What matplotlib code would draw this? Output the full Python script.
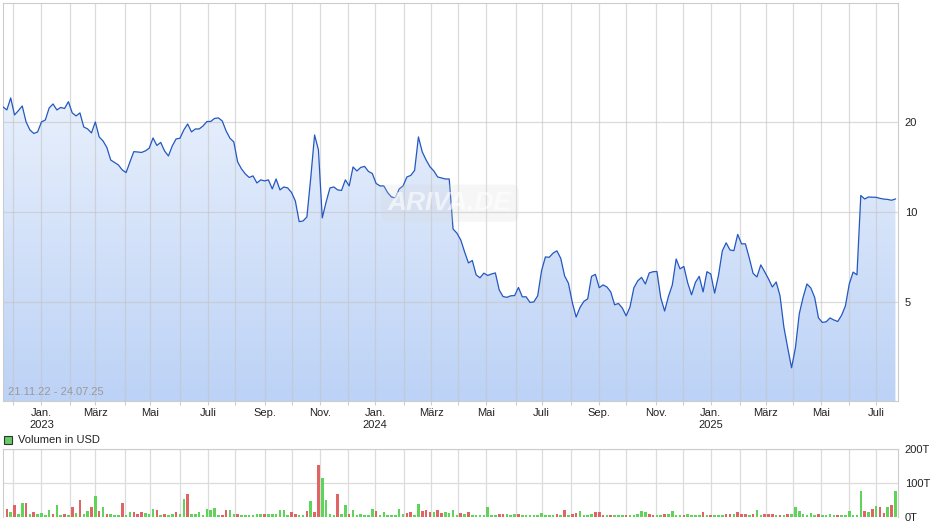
import numpy as np
import pandas as pd
import matplotlib
matplotlib.use('Agg')
import matplotlib.pyplot as plt
from matplotlib.colors import LinearSegmentedColormap
from matplotlib.patches import Rectangle
from matplotlib.ticker import NullLocator

plt.rcParams['font.family'] = ['Liberation Sans', 'DejaVu Sans']

start, end = '2022-11-21', '2025-07-24'
step = 3  # one reading every 3rd trading day

# closing price (USD)
price = [
    22.45, 21.94, 24.06, 21.11, 21.82, 22.62, 20.00, 18.80, 18.30, 18.52,
    20.00, 20.31, 22.28, 22.97, 21.94, 22.36, 22.19, 23.38, 21.44, 20.95,
    21.44, 19.24, 18.95, 18.38, 20.00, 17.82, 17.28, 16.43, 14.92, 14.64,
    14.36, 13.82, 13.54, 14.70, 15.91, 15.87, 15.81, 16.00, 16.33, 17.68,
    16.69, 17.08, 16.00, 15.39, 16.62, 17.55, 17.64, 18.80, 19.69, 18.52,
    18.95, 18.95, 19.39, 20.06, 20.08, 20.55, 20.63, 20.15, 18.66, 17.64,
    17.15, 14.70, 13.93, 13.40, 13.04, 13.20, 12.50, 12.80, 12.70, 12.80,
    11.94, 12.89, 11.85, 12.12, 12.03, 11.62, 10.88, 9.28, 9.33, 9.62,
    12.99, 18.09, 16.12, 9.55, 10.80, 12.03, 12.12, 11.85, 11.80, 12.80,
    12.22, 14.14, 13.71, 14.09, 14.20, 13.66, 13.45, 12.45, 12.22, 12.22,
    11.60, 11.22, 11.14, 11.94, 12.22, 13.09, 13.25, 13.77, 17.82, 15.87,
    14.92, 14.16, 13.71, 13.09, 12.99, 12.89, 12.89, 8.77, 8.49, 8.06,
    7.35, 6.75, 6.88, 6.16, 6.02, 6.24, 6.13, 6.20, 6.25, 5.48,
    5.21, 5.18, 5.24, 5.25, 5.59, 5.20, 5.20, 4.98, 5.00, 5.24,
    6.35, 7.07, 7.05, 7.28, 7.41, 6.99, 6.11, 5.77, 4.98, 4.45,
    4.79, 5.02, 5.12, 6.09, 6.18, 5.58, 5.70, 5.61, 5.40, 4.89,
    4.94, 4.77, 4.49, 4.81, 5.57, 5.88, 6.04, 5.74, 6.25, 6.31,
    6.32, 5.16, 4.66, 5.22, 5.70, 6.96, 6.45, 6.57, 5.79, 5.28,
    5.81, 6.09, 5.40, 6.31, 6.20, 5.35, 6.13, 7.41, 7.88, 7.46,
    7.42, 8.41, 7.82, 7.82, 7.02, 6.23, 6.06, 6.65, 6.31, 5.97,
    5.61, 5.83, 5.24, 4.12, 3.51, 3.01, 3.51, 4.56, 5.18, 5.74,
    5.57, 5.18, 4.42, 4.27, 4.29, 4.42, 4.35, 4.30, 4.51, 4.85,
    5.74, 6.29, 6.16, 11.35, 11.05, 11.22, 11.20, 11.19, 11.10, 11.04,
    11.01, 10.94, 11.05,
]

# volume in thousand USD; negative = down day (red), positive = up day (green)
volume = [
    -51, -24, 15, -36, 8, 42, -42, 10, -15, 8,
    12, 6, 20, -8, 36, 6, -8, 5, -28, 12,
    -51, 10, 18, -28, 63, -18, 28, -10, 8, 6,
    5, -42, 6, 15, -15, -10, -15, 12, 8,
    24, -21, 6, -10, 6, 10, -14, 8, 54, -68, 8,
    8, 15, 6, 24, 21, 26, 6, -5, -21, 21,
    8, -8, 6, 6, 5, 5, 8, 10, -8, 10,
    8, 8, 21, 21, 6, -14, -10, 6,
    6, -18, 48, -15, -154, 114, 51, 8, 6, -68, 8, 36,
    -10, 21, 5, 10, 5, 5, 24, -18, 5, 14,
    6, 6, 6, 24, 10, -12, -15, 6, 39, -18,
    -21, -15, 15, -21, -12, 15, 12,
    21, 5, -12, 8, -15, 6, 6, 6, 6, 30,
    6, 6, -8, -8, 10, 6, 10, -8, 5, 5,
    5, 5, 6, 12, 6, 6, 5, -8, 5, -21,
    5, -8, -12, 18, 6, 5, 10, -15, -15,
    -6, 5, -6, 5, 5, 5, -6, 6, 6, 10,
    18, 14, -10, -6, 5, 5, -10, 8, 18, 5,
    6, -6, 10, 5, 5, 5, -15, 5, -6, 6,
    6, 5, -8, -10, 10, -15, -10, -10, 6,
    -8, 21, 6, -10, -8, -10, 6, -5, 5, -10,
    8, 28, 18, 8, 5, 12, 6, -10, 5, 6,
    8, 5, -6, 6, 6, 18, 6, 5, 76, -18,
    14, -23, 33, -30, -12, 28, -36, 76,
]

month_names = {1: 'Jan.', 3: 'März', 5: 'Mai', 7: 'Juli', 9: 'Sep.', 11: 'Nov.'}
price_ticks = [5, 10, 20]
vol_ticks = [0, 100, 200]

days = pd.bdate_range(start, end)
pos = np.arange(len(days))
px = pos[::step]

# first trading day of every month -> grid lines, every 2nd month labelled
mpos, mlab = [], []
for i in range(1, len(days)):
    if days[i].month != days[i - 1].month:
        mpos.append(i)
        m = days[i].month
        lab = month_names.get(m, '')
        if m == 1:
            lab += '\n' + str(days[i].year)
        mlab.append(lab)

grid_col = '#dcdcdc'
fig = plt.figure(figsize=(9.4, 5.26), dpi=100)
ax = fig.add_axes([0.0032, 0.2376, 0.9521, 0.7567])
axv = fig.add_axes([0.0032, 0.0171, 0.9521, 0.1293])

# price panel
ax.set_yscale('log')
band = ax.fill_between(px, price, 1, facecolor='none', edgecolor='none')
grad = np.linspace(0, 1, 256).reshape(-1, 1)
cmap = LinearSegmentedColormap.from_list('fill', ['#bcd2f6', '#f6f9fe'])
img = ax.imshow(grad, cmap=cmap, origin='lower', extent=[0, 1, 0, 1],
                transform=ax.transAxes, aspect='auto', zorder=1)
img.set_clip_path(band.get_paths()[0], ax.transData)
ax.plot(px, price, color='#2458c0', lw=0.9, zorder=3)

ax.set_xlim(0, len(days) - 1)
ax.set_ylim(2.33, 50)
ax.set_xticks(mpos)
ax.set_xticklabels(mlab)
ax.yaxis.tick_right()
ax.set_yticks(price_ticks)
ax.set_yticklabels([str(t) for t in price_ticks])
ax.yaxis.set_minor_locator(NullLocator())
ax.set_axisbelow('line')
ax.grid(True, color='#c4c4c4', alpha=0.6, lw=0.9)
ax.tick_params(axis='x', length=3, color='#cccccc', labelsize=8, pad=2,
               labelcolor='#222222')
ax.tick_params(axis='y', length=0, pad=5, labelsize=8, labelcolor='#222222')
for s in ax.spines.values():
    s.set_color('#cccccc')

ax.text(0.006, 0.01, '21.11.22 - 24.07.25', transform=ax.transAxes,
        fontsize=8, color='#9a9a9a', va='bottom', ha='left')
ax.text(0.4994, 0.497, 'ARIVA.DE', transform=ax.transAxes, fontsize=19,
        fontweight='bold', style='italic', color='white', alpha=0.6,
        ha='center', va='center', zorder=4,
        bbox=dict(boxstyle='round,pad=0.25', fc='#d4d4d4', ec='none', alpha=0.2))

# volume panel
vol = np.abs(volume)
cols = ['#5fd35a' if v > 0 else '#e06464' for v in volume]
axv.bar(px, vol, width=2.0, color=cols, linewidth=0, zorder=2)
axv.set_xlim(0, len(days) - 1)
axv.set_ylim(0, 200)
axv.set_xticks(mpos)
axv.set_xticklabels([])
axv.yaxis.tick_right()
axv.set_yticks(vol_ticks)
axv.set_yticklabels([f'{t}T' for t in vol_ticks])
axv.grid(True, color=grid_col, lw=0.9, zorder=0)
axv.set_axisbelow(True)
axv.tick_params(axis='x', length=0)
axv.tick_params(axis='y', length=0, pad=5, labelsize=8, labelcolor='#222222')
for s in axv.spines.values():
    s.set_color('#cccccc')
axv.spines['bottom'].set_visible(False)

fig.add_artist(Rectangle((4 / 940, 1 - 444 / 526), 8 / 940, 8 / 526,
                         transform=fig.transFigure, fc='#66cc66',
                         ec='#333333', lw=0.8))
fig.text(18 / 940, 1 - 440 / 526, 'Volumen in USD', fontsize=8,
         va='center', ha='left', color='#222222')

fig.savefig('out.png', dpi=100)
